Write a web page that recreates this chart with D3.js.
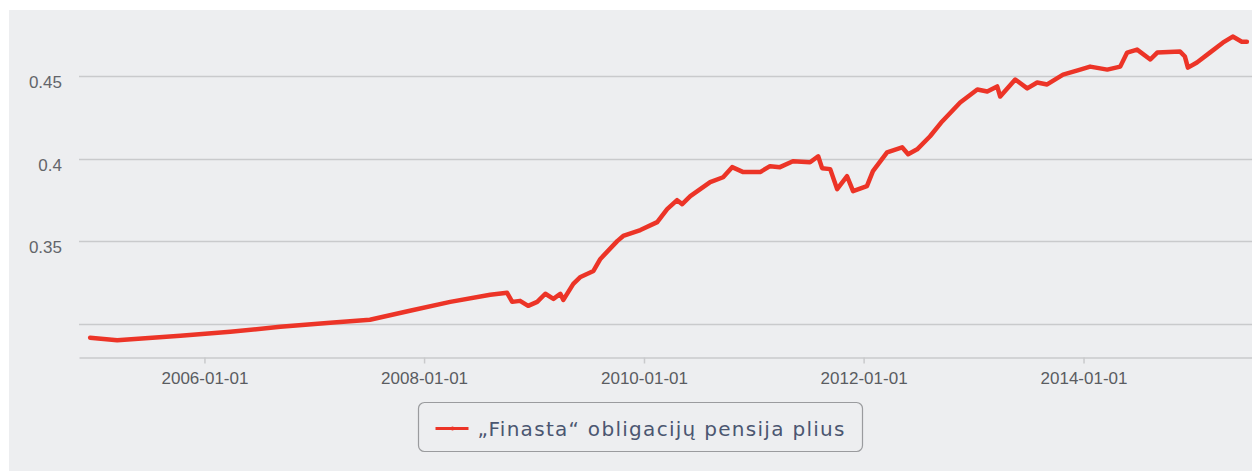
<!DOCTYPE html>
<html>
<head>
<meta charset="utf-8">
<script src="https://cdn.jsdelivr.net/npm/d3@7"></script>
<style>
  body { margin: 0; background: #fff; }
  svg { display: block; }
</style>
</head>
<body>
<svg id="chart"></svg>
<script>
// Chart size
var width = 1252;
var height = 471;

// Series data
var dates = [
  "2004-12-17", "2005-03-17", "2005-10-13", "2006-03-28", "2006-09-10", "2007-02-23",
  "2007-07-05", "2007-11-15", "2008-03-28", "2008-08-08", "2008-10-03", "2008-10-20",
  "2008-11-15", "2008-12-12", "2009-01-11", "2009-02-07", "2009-03-06", "2009-03-29",
  "2009-04-08", "2009-05-11", "2009-06-04", "2009-07-17", "2009-08-09", "2009-10-04",
  "2009-10-24", "2009-12-20", "2010-02-14", "2010-03-19", "2010-04-21", "2010-05-08",
  "2010-06-04", "2010-08-09", "2010-09-21", "2010-10-21", "2010-11-27", "2011-01-22",
  "2011-02-24", "2011-03-29", "2011-05-11", "2011-07-07", "2011-08-03", "2011-08-16",
  "2011-09-12", "2011-10-05", "2011-11-07", "2011-11-27", "2012-01-12", "2012-02-01",
  "2012-03-19", "2012-05-08", "2012-05-28", "2012-06-27", "2012-08-09", "2012-09-18",
  "2012-11-17", "2013-01-13", "2013-02-15", "2013-03-20", "2013-03-30", "2013-05-19",
  "2013-06-28", "2013-07-31", "2013-09-02", "2013-10-25", "2013-12-21", "2014-01-23",
  "2014-03-21", "2014-05-03", "2014-05-26", "2014-06-28", "2014-08-11", "2014-09-03",
  "2014-11-18", "2014-12-04", "2014-12-14", "2015-01-13", "2015-02-25", "2015-04-09",
  "2015-05-12", "2015-06-11", "2015-06-28"
];
var values = [
  0.2915, 0.2899, 0.2927, 0.2951, 0.2981, 0.3006,
  0.3024, 0.3078, 0.3132, 0.3175, 0.3187, 0.3132,
  0.3138, 0.3108, 0.3132, 0.3181, 0.3150, 0.3181,
  0.3144, 0.3241, 0.3283, 0.3319, 0.3392, 0.3500,
  0.3531, 0.3567, 0.3615, 0.3694, 0.3748, 0.3724,
  0.3772, 0.3857, 0.3887, 0.3948, 0.3918, 0.3918,
  0.3954, 0.3948, 0.3984, 0.3978, 0.4014, 0.3942,
  0.3936, 0.3815, 0.3893, 0.3803, 0.3833, 0.3924,
  0.4038, 0.4068, 0.4026, 0.4056, 0.4135, 0.4225,
  0.4340, 0.4418, 0.4406, 0.4437, 0.4376, 0.4479,
  0.4425, 0.4461, 0.4449, 0.4509, 0.4539, 0.4557,
  0.4539, 0.4557, 0.4642, 0.4660, 0.4600, 0.4642,
  0.4648, 0.4618, 0.4551, 0.4582, 0.4642, 0.4702,
  0.4739, 0.4708, 0.4708
];

// Axis ticks
var yGridValues = [0.30, 0.35, 0.40, 0.45];
var yTickLabels = ["", "0.35", "0.4", "0.45"];
var xTickDates = ["2006-01-01", "2008-01-01", "2010-01-01", "2012-01-01", "2014-01-01"];
var seriesName = "\u201EFinasta\u201C obligacij\u0173 pensija plius";

var parseDate = d3.timeParse("%Y-%m-%d");
var points = dates.map(function (d, i) {
    return { date: parseDate(d), value: values[i] };
});

var margin = { left: 79, right: 0, top: 10, bottom: 114 };

var svg = d3.select("#chart")
    .attr("width", width)
    .attr("height", height);

// gray panel
svg.append("rect")
    .attr("x", 9)
    .attr("y", 10)
    .attr("width", width - 9)
    .attr("height", height - 10)
    .attr("fill", "#edeef0");

var x = d3.scaleTime()
    .domain([parseDate("2004-11-10"), parseDate("2015-07-15")])
    .range([margin.left, width - margin.right]);

var y = d3.scaleLinear()
    .domain([0.2798, 0.49])
    .range([357, margin.top]);

// horizontal grid lines
svg.append("g")
    .selectAll("line")
    .data(yGridValues)
    .enter().append("line")
    .attr("x1", margin.left)
    .attr("x2", width)
    .attr("y1", function (d) { return Math.round(y(d)) + 0.5; })
    .attr("y2", function (d) { return Math.round(y(d)) + 0.5; })
    .attr("stroke", "#c9cacc")
    .attr("stroke-width", 1.5);

// y labels
svg.append("g")
    .selectAll("text")
    .data(yGridValues)
    .enter().append("text")
    .attr("x", 62)
    .attr("y", function (d) { return y(d) + 12; })
    .attr("text-anchor", "end")
    .attr("font-family", "Liberation Sans, Arial, sans-serif")
    .attr("font-size", 17)
    .attr("fill", "#63656a")
    .text(function (d, i) { return yTickLabels[i]; });

// x axis
var xAxis = d3.axisBottom(x)
    .tickValues(xTickDates.map(parseDate))
    .tickFormat(d3.timeFormat("%Y-%m-%d"))
    .tickSize(6)
    .tickSizeOuter(0);

var gx = svg.append("g")
    .attr("transform", "translate(0," + 357.5 + ")")
    .call(xAxis);

gx.select(".domain").attr("stroke", "#c9cacc").attr("stroke-width", 1.5);
gx.selectAll(".tick line").attr("stroke", "#c9cacc").attr("stroke-width", 1.5);
gx.selectAll(".tick text")
    .attr("y", 26)
    .attr("dy", null)
    .attr("font-family", "Liberation Sans, Arial, sans-serif")
    .attr("font-size", 17)
    .attr("fill", "#5a5c61");

// the series line
var line = d3.line()
    .x(function (d) { return x(d.date); })
    .y(function (d) { return y(d.value); });

svg.append("path")
    .datum(points)
    .attr("d", line)
    .attr("fill", "none")
    .attr("stroke", "#ec3427")
    .attr("stroke-width", 4.5)
    .attr("stroke-linejoin", "round")
    .attr("stroke-linecap", "round");

// legend
var legend = svg.append("g").attr("transform", "translate(418.5,402.5)");
legend.append("rect")
    .attr("width", 444)
    .attr("height", 49)
    .attr("rx", 6)
    .attr("fill", "#edeef0")
    .attr("stroke", "#9a9b9e")
    .attr("stroke-width", 1.2);
legend.append("line")
    .attr("x1", 17).attr("x2", 50)
    .attr("y1", 26).attr("y2", 26)
    .attr("stroke", "#ec3427")
    .attr("stroke-width", 3);
legend.append("circle")
    .attr("cx", 34).attr("cy", 26).attr("r", 2)
    .attr("fill", "#ec3427");
legend.append("text")
    .attr("x", 59)
    .attr("y", 33)
    .attr("font-family", "DejaVu Sans, Verdana, sans-serif")
    .attr("font-size", 20)
    .attr("textLength", 367)
    .attr("lengthAdjust", "spacing")
    .attr("fill", "#4b5670")
    .text(seriesName);
</script>
</body>
</html>
